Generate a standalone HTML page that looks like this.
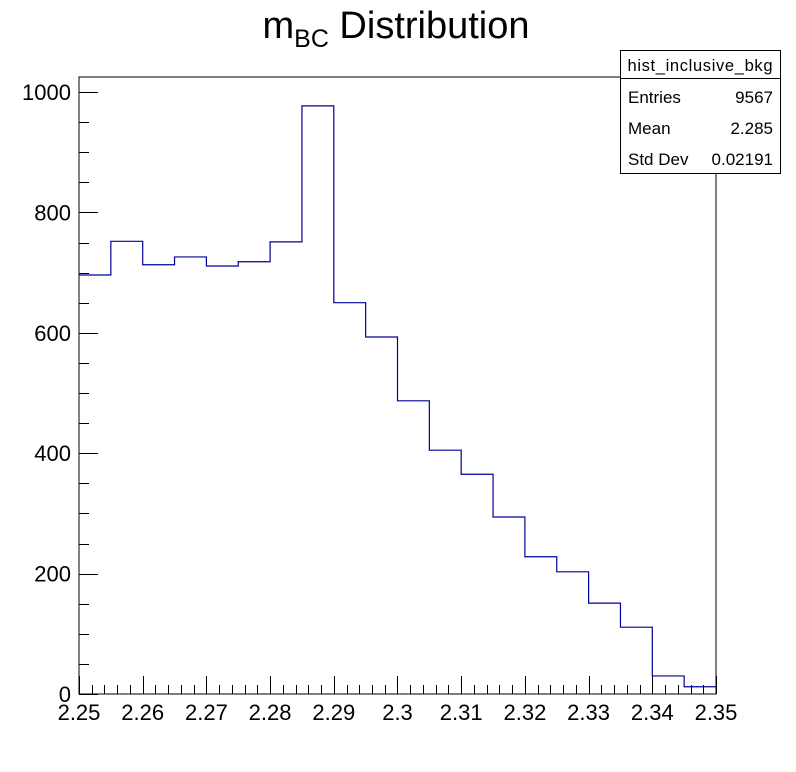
<!DOCTYPE html>
<html><head><meta charset="utf-8"><style>
html,body{margin:0;padding:0;background:#fff;}
svg{display:block;font-family:"Liberation Sans",sans-serif;}
</style></head><body>
<svg width="796" height="772">
<text x="396" y="38" text-anchor="middle" font-size="38">m<tspan font-size="25" dy="9">BC</tspan><tspan dy="-9"> Distribution</tspan></text>
<rect x="79" y="77" width="637" height="617" fill="none" stroke="#000" stroke-width="1"/>
<g id="axes"></g>
<path id="hist" fill="none" stroke="#00009a" stroke-width="1.2"/>
<g>
<rect x="620.5" y="50.5" width="160" height="123" fill="#fff" stroke="#000"/>
<line x1="620" y1="78.5" x2="781" y2="78.5" stroke="#000"/>
<text x="700" y="71" text-anchor="middle" font-size="16.5" textLength="145">hist_inclusive_bkg</text>
<text x="628" y="103" font-size="17">Entries</text><text x="773" y="103" text-anchor="end" font-size="17">9567</text>
<text x="628" y="134" font-size="17">Mean</text><text x="773" y="134" text-anchor="end" font-size="17">2.285</text>
<text x="628" y="165" font-size="17">Std Dev</text><text x="773" y="165" text-anchor="end" font-size="17">0.02191</text>
</g>
</svg>
<script>
const binEdgesStart = 2.25;
const binWidth = 0.005;
const counts = [696,752,713,726,711,718,751,977,650,593,487,405,365,294,228,203,151,111,30,12];
const yTicks = [0,200,400,600,800,1000];
const xTicks = ["2.25","2.26","2.27","2.28","2.29","2.3","2.31","2.32","2.33","2.34","2.35"];
const X0=79,X1=716,Y0=694,XMIN=2.25,XMAX=2.35,YPX=0.602;
const sx=v=>X0+(v-XMIN)/(XMAX-XMIN)*(X1-X0);
const sy=v=>Y0-v*YPX;
let d="";
counts.forEach((c,i)=>{
  const xa=sx(binEdgesStart+i*binWidth), xb=sx(binEdgesStart+(i+1)*binWidth);
  d+=(i===0?"M":"L")+xa+","+sy(c)+"L"+xb+","+sy(c);
});
document.getElementById('hist').setAttribute('d',d);
const ns="http://www.w3.org/2000/svg", g=document.getElementById('axes');
function ln(x1,y1,x2,y2,name){const l=document.createElementNS(ns,'line');
l.setAttribute('x1',x1);l.setAttribute('y1',y1);l.setAttribute('x2',x2);l.setAttribute('y2',y2);l.setAttribute('stroke','#000');


g.appendChild(l);}
function tx(x,y,s,anchor,name){const t=document.createElementNS(ns,'text');
t.setAttribute('x',x);t.setAttribute('y',y);t.setAttribute('text-anchor',anchor);t.setAttribute('font-size','22');t.textContent=s;


g.appendChild(t);}
for(let v=0;v<=1000;v+=50){const y=Math.round(sy(v))+0.5;ln(X0,y,X0+(v%200===0?19:10),y,'y-tick');}
yTicks.forEach(v=>tx(71,sy(v)+8,String(v),'end','y-tick-label'));
for(let k=0;k<=50;k++){const x=Math.round(sx(XMIN+k*0.002))+0.5;ln(x,Y0,x,Y0-(k%5===0?18:9),'x-tick');}
xTicks.forEach(s=>tx(sx(parseFloat(s)),720,s,'middle','x-tick-label'));
</script>
</body></html>
